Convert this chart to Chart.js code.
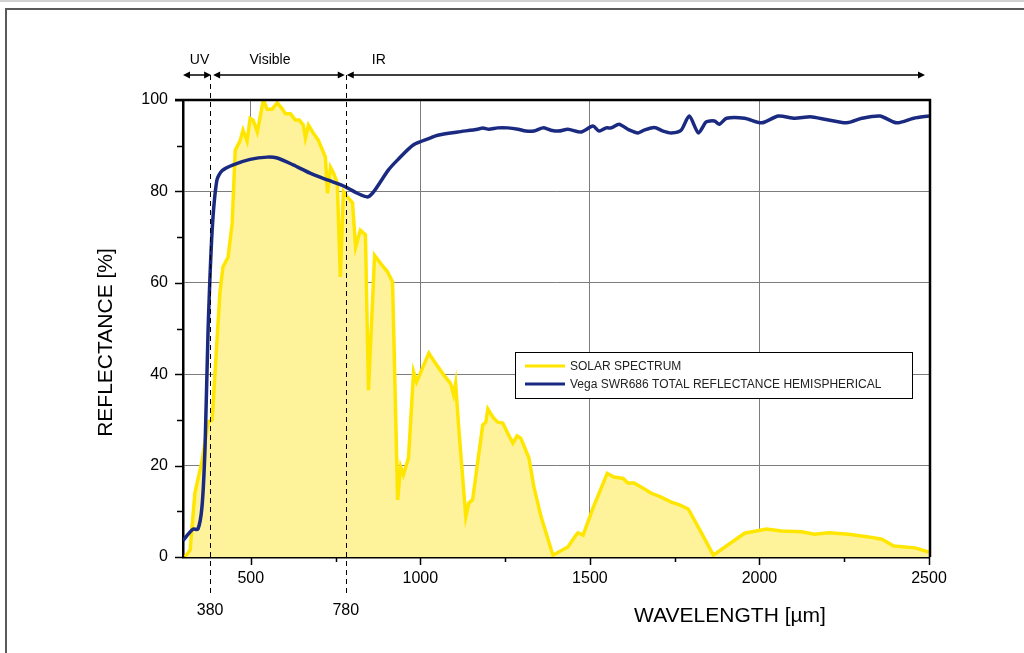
<!DOCTYPE html>
<html>
<head>
<meta charset="utf-8">
<script src="https://cdn.jsdelivr.net/npm/chart.js@4/dist/chart.umd.min.js"></script>
<style>
    html, body { margin: 0; padding: 0; background: #fff; }
    body { width: 1024px; height: 653px; overflow: hidden; position: relative; border-top: 2px solid #d0d0d0; box-sizing: border-box; }
    #frame { position: absolute; left: 5px; top: 6px; width: 1040px; height: 680px; border: 2px solid #5a5a5a; }
    #chart { position: absolute; left: 0; top: -2px; }
</style>
</head>
<body>
<div id="frame"></div>
<canvas id="chart" width="1024" height="653"></canvas>
<script>
// Solar spectrum (yellow, filled)
var solarWl = [306, 321, 335, 356, 374, 386, 409, 418, 433, 445, 454, 468, 477, 489, 498, 507, 519, 537, 548, 563,
    578, 593, 602, 617, 631, 643, 655, 661, 670, 684, 699, 720, 726, 735, 744, 755, 764, 773, 785, 800,
    809, 823, 838, 847, 865, 882, 903, 918, 933, 942, 950, 965, 980, 989, 1025, 1039, 1069, 1089, 1098, 1104,
    1113, 1134, 1143, 1154, 1184, 1193, 1199, 1214, 1228, 1243, 1258, 1273, 1285, 1296, 1320, 1335, 1356, 1391, 1435, 1459,
    1465, 1480, 1509, 1551, 1571, 1598, 1612, 1630, 1651, 1680, 1710, 1740, 1764, 1790, 1829, 1864, 1956, 2021, 2065, 2124,
    2163, 2204, 2263, 2322, 2361, 2396, 2459, 2500];
var solarVal = [0, 1.5, 14, 21, 29.5, 30, 58, 63.5, 65.6, 73, 89, 91, 93.4, 91, 96, 95.6, 93, 100, 98, 98,
    99.4, 98, 97, 97, 95.6, 95.6, 94.5, 91.7, 94.5, 92.8, 91.2, 87.5, 79.6, 85.3, 84, 81.8, 61.3, 80, 78.8, 77.5,
    67.8, 71.5, 70.5, 36.5, 66, 64.3, 62.4, 60.2, 12.5, 19.7, 18, 21.7, 40.5, 38.3, 44.6, 43, 39.8, 38, 35.5, 38,
    28.4, 8.8, 11.8, 12.5, 28.9, 29.5, 32.4, 30.6, 29.5, 29.3, 27, 24.9, 26.5, 26, 21.7, 15.3, 8.8, 0.4, 2.2, 4.8,
    5.3, 4.8, 10.7, 18.3, 17.5, 17.2, 16.2, 16.2, 15.3, 14, 13.1, 12, 11.4, 10.5, 5.3, 0.4, 5.2, 6.1, 5.7, 5.5,
    5, 5.3, 5, 4.4, 3.9, 2.4, 2, 1.1];

// Vega SWR686 total reflectance (blue)
var vegaWl = [300, 321, 330, 344, 356, 365, 374, 386, 400, 415, 448, 498, 548, 578, 625, 675, 726, 779, 814, 844,
    862, 906, 933, 980, 1030, 1051, 1110, 1169, 1184, 1202, 1228, 1258, 1288, 1311, 1335, 1361, 1385, 1408, 1435, 1474,
    1509, 1527, 1548, 1563, 1586, 1612, 1642, 1660, 1690, 1716, 1740, 1769, 1793, 1820, 1843, 1867, 1882, 1903, 1956, 2006,
    2056, 2104, 2154, 2257, 2302, 2355, 2405, 2455, 2500];
var vegaVal = [3.6, 5.5, 6.1, 6.1, 11, 24, 49.7, 71.5, 82.5, 84.5, 85.8, 87, 87.5, 87.3, 85.8, 84, 82.5, 81, 79.6, 78.8,
    79.9, 84.7, 86.9, 90.2, 91.7, 92.3, 93, 93.6, 93.9, 93.6, 93.9, 93.9, 93.6, 93.2, 93.2, 93.9, 93.4, 93.2, 93.6, 93,
    94.3, 93.2, 93.9, 93.9, 94.7, 93.6, 92.8, 93.4, 94, 93.2, 92.8, 93.4, 96.5, 92.8, 95.2, 95.4, 94.7, 96, 96, 95,
    96.5, 96, 96.3, 95, 96, 96.5, 95, 96, 96.5];

var seriesLabels = ['SOLAR SPECTRUM', 'Vega SWR686 TOTAL REFLECTANCE HEMISPHERICAL'];
var xTickValues = [500, 750, 1000, 1250, 1500, 1750, 2000, 2250, 2500];
var bandEdges = [380, 780];
var bandNames = ['UV', 'Visible', 'IR'];

var FONT = '"Liberation Sans", Arial, Helvetica, sans-serif';
var YELLOW = '#ffe600', FILL = '#fef39b', BLUE = '#1a2a80', GRID = '#7d7d7d';

function toPoints(xs, ys) {
    return xs.map(function (x, i) { return { x: x, y: ys[i] }; });
}

function arrow(ctx, x1, x2, y) {
    var h = 7, w = 3.5;
    ctx.beginPath();
    ctx.moveTo(x1 + 2, y); ctx.lineTo(x2 - 2, y);
    ctx.stroke();
    ctx.beginPath();
    ctx.moveTo(x1, y); ctx.lineTo(x1 + h, y - w); ctx.lineTo(x1 + h, y + w); ctx.closePath();
    ctx.moveTo(x2, y); ctx.lineTo(x2 - h, y - w); ctx.lineTo(x2 - h, y + w); ctx.closePath();
    ctx.fill();
}

// Everything around the plot: ticks, frame, band markers, titles, legend
var decor = {
    id: 'decor',
    afterDatasetsDraw: function (chart) {
        var ctx = chart.ctx, ca = chart.chartArea;
        var xs = chart.scales.x, ys = chart.scales.y;
        ctx.save();
        ctx.strokeStyle = '#000';
        ctx.fillStyle = '#000';

        // tick marks, outward
        ctx.lineWidth = 1.5;
        ys.ticks.forEach(function (t) {
            var py = Math.round(ys.getPixelForValue(t.value)) + 0.5;
            var len = t.value % 20 === 0 ? 8 : 6;
            ctx.beginPath(); ctx.moveTo(ca.left - len, py); ctx.lineTo(ca.left, py); ctx.stroke();
        });
        xs.ticks.forEach(function (t) {
            var px = Math.round(xs.getPixelForValue(t.value)) + 0.5;
            var len = t.value % 500 === 0 ? 8 : 5;
            ctx.beginPath(); ctx.moveTo(px, ca.bottom); ctx.lineTo(px, ca.bottom + len); ctx.stroke();
        });

        // top and right frame of the plot
        ctx.lineWidth = 2.5;
        ctx.beginPath();
        ctx.moveTo(ca.left - 8, ca.top); ctx.lineTo(ca.right + 1, ca.top); ctx.lineTo(ca.right + 1, ca.bottom);
        ctx.stroke();

        // band edges
        var yArrow = ca.top - 25;
        ctx.lineWidth = 1;
        ctx.setLineDash([5, 4]);
        bandEdges.forEach(function (v) {
            var px = Math.round(xs.getPixelForValue(v)) + 0.5;
            ctx.beginPath(); ctx.moveTo(px, yArrow); ctx.lineTo(px, ca.bottom + 36); ctx.stroke();
        });
        ctx.setLineDash([]);

        ctx.font = '16px ' + FONT;
        ctx.textAlign = 'center';
        ctx.textBaseline = 'middle';
        bandEdges.forEach(function (v) {
            ctx.fillText(String(v), xs.getPixelForValue(v), ca.bottom + 54);
        });

        // band arrows and names
        var e0 = xs.getPixelForValue(xs.min), e1 = xs.getPixelForValue(bandEdges[0]);
        var e2 = xs.getPixelForValue(bandEdges[1]), e3 = xs.getPixelForValue(xs.max) - 4;
        ctx.lineWidth = 1.5;
        arrow(ctx, e0, e1 + 1, yArrow);
        arrow(ctx, e1 + 3, e2 - 1, yArrow);
        arrow(ctx, e2 + 1, e3, yArrow);
        ctx.font = '14px ' + FONT;
        ctx.fillText(bandNames[0], (e0 + e1) / 2 + 3, yArrow - 15);
        ctx.fillText(bandNames[1], (e1 + e2) / 2 - 8, yArrow - 15);
        ctx.fillText(bandNames[2], e2 + 33, yArrow - 15);

        // axis titles
        ctx.font = '21px ' + FONT;
        ctx.fillText('WAVELENGTH [\u00b5m]', ca.left + 547, ca.bottom + 59);
        ctx.save();
        ctx.translate(106, (ca.top + ca.bottom) / 2 + 14);
        ctx.rotate(-Math.PI / 2);
        ctx.fillText('REFLECTANCE [%]', 0, 0);
        ctx.restore();

        // legend
        var lx = ca.left + 332, ly = ca.top + 252, lw = 397, lh = 46;
        ctx.fillStyle = '#fff';
        ctx.fillRect(lx, ly, lw, lh);
        ctx.lineWidth = 1;
        ctx.strokeStyle = '#000';
        ctx.strokeRect(lx + 0.5, ly + 0.5, lw, lh);
        var colors = [YELLOW, BLUE];
        ctx.font = '12px ' + FONT;
        ctx.textAlign = 'left';
        seriesLabels.forEach(function (lab, i) {
            var yy = ly + 14 + i * 18;
            ctx.strokeStyle = colors[i];
            ctx.lineWidth = 3;
            ctx.beginPath(); ctx.moveTo(lx + 10, yy); ctx.lineTo(lx + 50, yy); ctx.stroke();
            ctx.fillStyle = '#222';
            ctx.fillText(lab, lx + 55, yy + 1);
        });

        ctx.restore();
    }
};

new Chart(document.getElementById('chart'), {
    type: 'line',
    data: {
        datasets: [
            {
                label: seriesLabels[0],
                data: toPoints(solarWl, solarVal),
                borderColor: YELLOW,
                backgroundColor: FILL,
                borderWidth: 3.5,
                fill: 'origin',
                pointRadius: 0,
                tension: 0,
                order: 2
            },
            {
                label: seriesLabels[1],
                data: toPoints(vegaWl, vegaVal),
                borderColor: BLUE,
                borderWidth: 3.5,
                fill: false,
                pointRadius: 0,
                tension: 0.25,
                order: 1
            }
        ]
    },
    options: {
        responsive: false,
        animation: false,
        layout: { padding: { top: 100, right: 95, left: 0, bottom: 0 } },
        plugins: { legend: { display: false }, tooltip: { enabled: false } },
        scales: {
            x: {
                type: 'linear',
                min: 300,
                max: 2500,
                afterBuildTicks: function (scale) {
                    scale.ticks = xTickValues.map(function (v) { return { value: v }; });
                },
                afterFit: function (scale) { scale.height = 96; },
                ticks: {
                    autoSkip: false,
                    maxRotation: 0,
                    padding: 12,
                    color: '#000',
                    font: { family: FONT, size: 16 },
                    callback: function (v) { return v % 500 === 0 ? String(v) : ''; }
                },
                grid: {
                    drawTicks: false,
                    lineWidth: 1,
                    color: function (c) {
                        var v = c.tick && c.tick.value;
                        return (v % 500 === 0 && v < 2500) ? GRID : 'rgba(0,0,0,0)';
                    }
                },
                border: { display: true, color: '#000', width: 2.5 }
            },
            y: {
                min: 0,
                max: 100,
                afterFit: function (scale) { scale.width = 183; },
                ticks: {
                    stepSize: 10,
                    padding: 15,
                    color: '#000',
                    font: { family: FONT, size: 16 },
                    callback: function (v) { return v % 20 === 0 ? String(v) : ''; }
                },
                grid: {
                    drawTicks: false,
                    lineWidth: 1,
                    color: function (c) {
                        var v = c.tick && c.tick.value;
                        return (v % 20 === 0 && v > 0 && v < 100) ? GRID : 'rgba(0,0,0,0)';
                    }
                },
                border: { display: true, color: '#000', width: 2.5 }
            }
        }
    },
    plugins: [decor]
});
</script>
</body>
</html>
